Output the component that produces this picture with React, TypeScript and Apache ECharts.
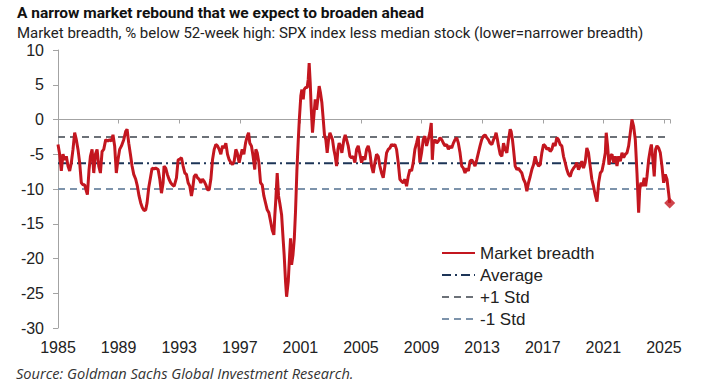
import React, { useEffect, useRef } from "react";
import * as echarts from "echarts";

const titleText = "A narrow market rebound that we expect to broaden ahead";
const subtitleText =
  "Market breadth, % below 52-week high: SPX index less median stock (lower=narrower breadth)";
const sourceText = "Source: Goldman Sachs Global Investment Research.";

const seriesNames = ["Market breadth", "Average", "+1 Std", "-1 Std"];

const years = [
  1985.0, 1985.11, 1985.22, 1985.33, 1985.44, 1985.55, 1985.66, 1985.77, 1985.88, 1985.99,
  1986.1, 1986.21, 1986.32, 1986.43, 1986.54, 1986.65, 1986.76, 1986.87, 1986.94, 1987.05,
  1987.14, 1987.25, 1987.36, 1987.47, 1987.58, 1987.69, 1987.8, 1987.91, 1988.02, 1988.15,
  1988.3, 1988.41, 1988.52, 1988.63, 1988.74, 1988.85, 1988.96, 1989.07, 1989.19, 1989.34,
  1989.47, 1989.56, 1989.67, 1989.78, 1989.89, 1990.0, 1990.13, 1990.24, 1990.35, 1990.46,
  1990.57, 1990.68, 1990.79, 1990.88, 1990.99, 1991.1, 1991.21, 1991.34, 1991.45, 1991.61,
  1991.72, 1991.83, 1991.94, 1992.0, 1992.11, 1992.22, 1992.33, 1992.44, 1992.55, 1992.67,
  1992.82, 1992.93, 1993.04, 1993.15, 1993.26, 1993.37, 1993.48, 1993.59, 1993.7, 1993.81,
  1993.88, 1993.99, 1994.1, 1994.21, 1994.32, 1994.43, 1994.54, 1994.65, 1994.76, 1994.87,
  1994.98, 1995.09, 1995.2, 1995.31, 1995.42, 1995.53, 1995.64, 1995.75, 1995.86, 1995.97,
  1996.08, 1996.19, 1996.3, 1996.41, 1996.52, 1996.63, 1996.74, 1996.83, 1996.96, 1997.05,
  1997.16, 1997.27, 1997.38, 1997.49, 1997.58, 1997.66, 1997.77, 1997.88, 1997.99, 1998.06,
  1998.15, 1998.26, 1998.37, 1998.48, 1998.59, 1998.7, 1998.81, 1998.92, 1999.03, 1999.14,
  1999.25, 1999.31, 1999.38, 1999.47, 1999.56, 1999.64, 1999.76, 1999.87, 1999.93, 2000.02,
  2000.09, 2000.2, 2000.29, 2000.35, 2000.42, 2000.51, 2000.6, 2000.68, 2000.77, 2000.86,
  2000.93, 2001.03, 2001.1, 2001.19, 2001.25, 2001.34, 2001.45, 2001.52, 2001.58, 2001.65,
  2001.71, 2001.8, 2001.89, 2001.98, 2002.07, 2002.15, 2002.24, 2002.33, 2002.42, 2002.51,
  2002.59, 2002.68, 2002.77, 2002.86, 2002.95, 2003.04, 2003.12, 2003.21, 2003.3, 2003.39,
  2003.48, 2003.56, 2003.65, 2003.74, 2003.87, 2003.96, 2004.05, 2004.16, 2004.27, 2004.38,
  2004.49, 2004.6, 2004.71, 2004.82, 2004.93, 2005.04, 2005.15, 2005.26, 2005.37, 2005.48,
  2005.59, 2005.7, 2005.81, 2005.92, 2006.03, 2006.14, 2006.25, 2006.36, 2006.47, 2006.58,
  2006.69, 2006.8, 2006.91, 2007.02, 2007.13, 2007.24, 2007.35, 2007.46, 2007.57, 2007.68,
  2007.79, 2007.9, 2008.01, 2008.12, 2008.23, 2008.34, 2008.45, 2008.56, 2008.67, 2008.78,
  2008.89, 2009.0, 2009.11, 2009.22, 2009.33, 2009.44, 2009.55, 2009.64, 2009.71, 2009.78,
  2009.89, 2010.0, 2010.11, 2010.22, 2010.33, 2010.44, 2010.55, 2010.66, 2010.77, 2010.88,
  2010.99, 2011.1, 2011.21, 2011.32, 2011.43, 2011.54, 2011.65, 2011.76, 2011.87, 2011.98,
  2012.09, 2012.2, 2012.31, 2012.42, 2012.53, 2012.64, 2012.75, 2012.86, 2012.97, 2013.08,
  2013.19, 2013.3, 2013.41, 2013.52, 2013.64, 2013.75, 2013.86, 2013.92, 2014.01, 2014.08,
  2014.19, 2014.3, 2014.41, 2014.52, 2014.63, 2014.74, 2014.85, 2014.91, 2015.0, 2015.07,
  2015.18, 2015.29, 2015.4, 2015.51, 2015.62, 2015.73, 2015.84, 2015.95, 2016.06, 2016.17,
  2016.28, 2016.39, 2016.5, 2016.61, 2016.72, 2016.83, 2016.94, 2017.05, 2017.16, 2017.27,
  2017.38, 2017.49, 2017.6, 2017.71, 2017.82, 2017.93, 2018.04, 2018.15, 2018.26, 2018.37,
  2018.48, 2018.59, 2018.7, 2018.81, 2018.92, 2019.03, 2019.14, 2019.25, 2019.36, 2019.47,
  2019.58, 2019.69, 2019.8, 2019.91, 2020.02, 2020.13, 2020.24, 2020.35, 2020.46, 2020.58,
  2020.69, 2020.8, 2020.91, 2021.02, 2021.13, 2021.19, 2021.28, 2021.37, 2021.46, 2021.57,
  2021.68, 2021.79, 2021.9, 2022.01, 2022.12, 2022.23, 2022.34, 2022.45, 2022.56, 2022.67,
  2022.78, 2022.89, 2023.0, 2023.11, 2023.22, 2023.33, 2023.4, 2023.48, 2023.59, 2023.7,
  2023.79, 2023.88, 2023.99, 2024.1, 2024.17, 2024.25, 2024.36, 2024.45, 2024.54, 2024.65,
  2024.76, 2024.87, 2024.98, 2025.09, 2025.2, 2025.31, 2025.38,
];

const breadth = [
  -3.6, -5.0, -7.4, -5.0, -5.8, -5.3, -6.7, -7.4, -6.2, -4.3,
  -1.9, -2.9, -4.3, -6.2, -9.1, -9.4, -9.4, -10.3, -10.8, -7.2,
  -5.3, -4.3, -7.7, -5.0, -4.3, -6.7, -7.7, -4.6, -4.3, -2.9,
  -3.1, -2.9, -3.1, -2.2, -3.8, -7.7, -5.8, -4.3, -3.8, -2.9,
  -1.7, -1.4, -3.4, -5.0, -6.7, -7.9, -8.6, -9.6, -11.0, -12.0,
  -12.7, -13.1, -13.0, -12.0, -9.8, -8.4, -7.0, -7.1, -7.0, -7.2,
  -8.6, -10.6, -9.1, -6.7, -7.0, -7.9, -8.6, -9.1, -9.4, -9.6,
  -8.4, -5.8, -5.7, -5.5, -6.7, -7.7, -7.9, -9.1, -9.6, -11.0,
  -10.1, -8.2, -7.9, -8.4, -8.6, -9.1, -8.6, -8.9, -9.4, -10.1,
  -10.1, -8.6, -5.8, -4.3, -3.6, -3.8, -4.3, -5.0, -3.8, -4.1,
  -3.4, -5.0, -5.8, -6.2, -6.5, -6.0, -4.3, -4.8, -6.2, -5.3,
  -4.3, -5.0, -3.4, -2.4, -1.9, -3.4, -3.8, -5.3, -7.2, -4.3,
  -4.8, -6.2, -9.1, -9.4, -11.0, -12.0, -13.0, -13.4, -14.6, -15.9,
  -16.6, -13.9, -11.5, -7.7, -11.0, -12.0, -13.7, -17.5, -19.5, -23.3,
  -25.5, -23.3, -19.5, -17.1, -20.9, -19.5, -17.1, -13.2, -7.4, -3.0,
  0.0, 3.4, 4.3, 2.9, 4.3, 4.6, 4.6, 5.8, 8.1, 5.3,
  1.9, -1.9, 0.5, 2.9, 1.4, 2.9, 4.8, 3.8, 2.4, 0.0,
  -2.2, -2.9, -4.8, -2.9, -1.9, -2.4, -2.9, -4.3, -5.3, -6.7,
  -4.3, -3.4, -3.8, -4.8, -2.9, -2.2, -2.9, -3.8, -5.3, -5.5,
  -5.3, -6.2, -4.3, -3.8, -5.0, -6.2, -5.3, -5.8, -4.3, -3.8,
  -4.8, -6.7, -7.7, -6.2, -5.0, -5.3, -6.7, -7.7, -8.4, -6.7,
  -4.8, -4.3, -4.1, -3.6, -3.8, -3.6, -4.3, -6.2, -8.6, -8.9,
  -9.1, -8.6, -9.6, -8.2, -7.2, -7.4, -6.2, -4.3, -3.4, -2.4,
  -6.2, -4.8, -2.9, -2.4, -3.8, -2.9, -1.9, -0.5, -5.8, -3.4,
  -2.9, -3.4, -3.1, -2.6, -2.9, -3.4, -3.8, -3.6, -4.3, -3.8,
  -4.1, -3.4, -2.9, -2.6, -3.4, -4.8, -6.7, -7.0, -7.7, -7.0,
  -7.4, -6.0, -5.8, -6.2, -6.7, -5.8, -4.8, -3.8, -2.9, -2.4,
  -2.2, -2.6, -2.9, -3.4, -3.6, -2.9, -2.4, -1.9, -2.9, -3.8,
  -5.0, -5.3, -3.4, -4.3, -4.8, -2.9, -1.4, -1.7, -2.9, -4.3,
  -6.7, -7.2, -7.0, -7.4, -7.7, -8.6, -9.1, -10.3, -9.1, -8.2,
  -7.2, -6.5, -5.3, -6.2, -6.7, -6.5, -4.8, -3.6, -3.8, -4.3,
  -4.1, -4.6, -4.3, -3.4, -3.8, -2.6, -2.9, -3.6, -3.8, -5.3,
  -6.2, -7.2, -7.9, -8.2, -7.4, -7.0, -6.7, -6.2, -7.2, -6.7,
  -6.0, -7.0, -6.2, -4.1, -4.8, -6.7, -8.6, -9.6, -10.8, -11.8,
  -9.1, -7.7, -7.4, -6.2, -4.8, -1.9, -3.8, -6.5, -5.3, -5.0,
  -6.2, -5.3, -6.7, -5.3, -6.0, -4.8, -5.5, -5.0, -4.8, -3.8,
  -1.9, 0.0, -1.0, -2.9, -7.7, -13.4, -10.1, -9.1, -9.6, -8.4,
  -9.6, -8.2, -5.8, -4.3, -3.6, -5.3, -8.2, -4.3, -3.8, -4.1,
  -4.8, -6.7, -9.1, -7.9, -8.6, -10.6, -12.0,
];

const average = -6.3;
const plusOneStd = -2.5;
const minusOneStd = -10.0;

const xStart = 1985;
const xEnd = 2025.4;
const xInterval = 4;
const yMin = -30;
const yMax = 10;
const yInterval = 5;

const RED = "#c3161f";
const NAVY = "#1d3557";
const GREY = "#6c7178";
const STEEL = "#7d93ab";
const AXIS = "#a3a3a3";
const FONT = "'Liberation Sans', Arial, sans-serif";

export default function App() {
  const ref = useRef<HTMLDivElement>(null);

  useEffect(() => {
    if (!ref.current) return;
    const chart = echarts.init(ref.current, undefined, { renderer: "svg" });
    const mainData = years.map((y, i) => [y, breadth[i]]);
    const last = mainData[mainData.length - 1];
    const flat = (v: number) => [
      [xStart, v],
      [xEnd, v],
    ];
    const xLabelFmt = (v: number) =>
      Math.abs(v - Math.round(v)) < 1e-6 ? String(Math.round(v)) : "";

    chart.setOption({
      animation: false,
      backgroundColor: "#ffffff",
      title: [
        {
          text: titleText,
          left: 12,
          top: 0,
          textStyle: {
            fontFamily: "Roboto, sans-serif",
            fontWeight: "bold",
            fontSize: 15.5,
            color: "#111",
          },
        },
        {
          text: subtitleText,
          left: 12,
          top: 20,
          textStyle: {
            fontFamily: "Roboto, sans-serif",
            fontWeight: "normal",
            fontSize: 15,
            color: "#222",
          },
        },
        {
          text: sourceText,
          left: 11,
          top: 360,
          textStyle: {
            fontFamily: "'Open Sans', sans-serif",
            fontStyle: "italic",
            fontWeight: "normal",
            fontSize: 14.6,
            color: "#333",
          },
        },
      ],
      grid: { left: 58, right: 39, top: 50, bottom: 63, containLabel: false },
      legend: {
        data: seriesNames,
        orient: "vertical",
        left: 436,
        top: 237,
        itemWidth: 33,
        itemHeight: 14,
        itemGap: 0,
        itemStyle: { opacity: 0 },
        textStyle: {
          fontFamily: FONT,
          fontSize: 17,
          color: "#222",
          lineHeight: 22,
        },
      },
      xAxis: [
        {
          type: "value",
          position: "bottom",
          min: xStart,
          max: xEnd,
          interval: xInterval,
          axisLine: { show: false, onZero: false },
          axisTick: { show: false },
          splitLine: { show: false },
          axisLabel: {
            formatter: xLabelFmt,
            fontFamily: FONT,
            fontSize: 16,
            color: "#222",
            margin: 11,
          },
        },
        {
          type: "value",
          position: "top",
          min: xStart,
          max: xEnd,
          interval: xInterval,
          axisLine: { show: true, onZero: true, lineStyle: { color: AXIS, width: 1 } },
          axisTick: { show: true, inside: true, length: 4, lineStyle: { color: AXIS } },
          splitLine: { show: false },
          axisLabel: { show: false },
        },
      ],
      yAxis: {
        type: "value",
        min: yMin,
        max: yMax,
        interval: yInterval,
        axisLine: { show: true, lineStyle: { color: AXIS, width: 1 } },
        axisTick: { show: true, length: 5, lineStyle: { color: AXIS } },
        splitLine: { show: false },
        axisLabel: {
          fontFamily: FONT,
          fontSize: 16,
          color: "#222",
          margin: 14,
        },
      },
      series: [
        {
          name: seriesNames[0],
          type: "line",
          data: mainData,
          symbol: "none",
          color: RED,
          lineStyle: { color: RED, width: 3 },
          z: 5,
        },
        {
          name: seriesNames[1],
          type: "line",
          data: flat(average),
          symbol: "none",
          color: NAVY,
          lineStyle: { color: NAVY, width: 2, type: [9, 4, 2, 4] },
          z: 3,
        },
        {
          name: seriesNames[2],
          type: "line",
          data: flat(plusOneStd),
          symbol: "none",
          color: GREY,
          lineStyle: { color: GREY, width: 2, type: [7, 5] },
          z: 3,
        },
        {
          name: seriesNames[3],
          type: "line",
          data: flat(minusOneStd),
          symbol: "none",
          color: STEEL,
          lineStyle: { color: STEEL, width: 2, type: [7, 5] },
          z: 3,
        },
        {
          name: "Latest",
          type: "scatter",
          data: [last],
          symbol: "diamond",
          symbolSize: 11,
          itemStyle: { color: RED },
          z: 6,
        },
      ],
    });
    return () => chart.dispose();
  }, []);

  return (
    <div
      ref={ref}
      style={{ position: "fixed", left: 0, top: 0, width: 709, height: 391, background: "#fff" }}
    />
  );
}
